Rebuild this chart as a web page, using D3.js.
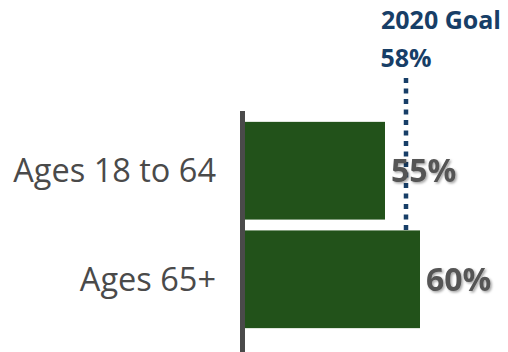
<!DOCTYPE html>
<html>
<head>
<meta charset="utf-8">
<script src="https://cdn.jsdelivr.net/npm/d3@7"></script>
<style>
  html, body { margin: 0; padding: 0; background: #fff; }
  svg { display: block; }
</style>
</head>
<body>
<script>
// Adults with a vaccination — share by age group, against the 2020 goal
const categories = ["Ages 18 to 64", "Ages 65+"];
const values = [55, 60];
const valueLabels = ["55%", "60%"];
const goalValue = 58;
const goalTitle = "2020 Goal";
const goalLabel = "58%";

const W = 508, H = 352;
const svg = d3.select("body").append("svg")
  .attr("width", W).attr("height", H);

const defs = svg.append("defs");
const shadow = defs.append("filter").attr("id", "shadow")
  .attr("x", "-10%").attr("y", "-10%").attr("width", "130%").attr("height", "140%");
shadow.append("feDropShadow")
  .attr("dx", 1.5).attr("dy", 1.5).attr("stdDeviation", 0.8)
  .attr("flood-color", "#000").attr("flood-opacity", 0.35);

const x = d3.scaleLinear().domain([35, 70]).range([245, 490]);
const y = d3.scaleBand().domain(categories).range([111, 339])
  .paddingInner(0.1).paddingOuter(0.1);

// Goal marker line (drawn first so value labels sit over it)
svg.append("line")
  .attr("x1", x(goalValue)).attr("x2", x(goalValue))
  .attr("y1", 78).attr("y2", y(categories[1]))
  .attr("stroke", "#173e67").attr("stroke-width", 4.5)
  .attr("stroke-dasharray", "5,5.5");

// Bars
svg.selectAll("rect.bar").data(values).join("rect")
  .attr("class", "bar")
  .attr("x", x(35))
  .attr("y", (d, i) => y(categories[i]))
  .attr("width", d => x(d) - x(35))
  .attr("height", y.bandwidth())
  .attr("fill", "#22521a");

// Vertical axis line
svg.append("line")
  .attr("x1", 242.5).attr("x2", 242.5)
  .attr("y1", 111).attr("y2", H)
  .attr("stroke", "#4a4a4a").attr("stroke-width", 5);

// Category labels
svg.selectAll("text.cat").data(categories).join("text")
  .attr("class", "cat")
  .attr("x", 216)
  .attr("y", d => y(d) + y.bandwidth() / 2)
  .attr("dy", "0.35em")
  .attr("text-anchor", "end")
  .attr("font-family", "'Open Sans', sans-serif")
  .attr("font-size", 32.5)
  .attr("fill", "#4a4a4a")
  .text(d => d);

// Value labels
svg.selectAll("text.val").data(values).join("text")
  .attr("class", "val")
  .attr("x", d => x(d) + 6)
  .attr("y", (d, i) => y(categories[i]) + y.bandwidth() / 2)
  .attr("dy", "0.36em")
  .attr("font-family", "'Open Sans', sans-serif")
  .attr("font-weight", 700)
  .attr("font-size", 32)
  .attr("fill", "#555555")
  .attr("filter", "url(#shadow)")
  .text((d, i) => valueLabels[i]);

// Goal annotation
svg.append("text")
  .attr("x", 381).attr("y", 29)
  .attr("font-family", "'Open Sans', sans-serif")
  .attr("font-weight", 700).attr("font-size", 25)
  .attr("fill", "#173e67")
  .text(goalTitle);
svg.append("text")
  .attr("x", x(goalValue)).attr("y", 67)
  .attr("text-anchor", "middle")
  .attr("font-family", "'Open Sans', sans-serif")
  .attr("font-weight", 700).attr("font-size", 25)
  .attr("fill", "#173e67")
  .text(goalLabel);
</script>
</body>
</html>
